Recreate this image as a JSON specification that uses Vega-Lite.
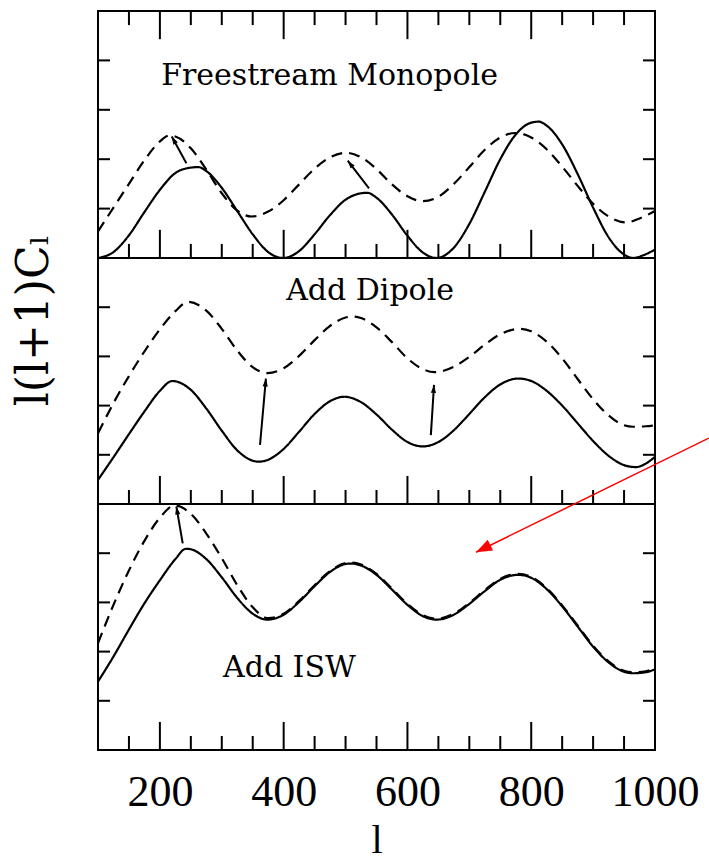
{
  "$schema": "https://vega.github.io/schema/vega-lite/v6.json",
  "background": "white",
  "padding": {"left": 11, "top": 9, "right": 0, "bottom": 0},
  "bounds": "flush",
  "spacing": 0,
  "config": {"view": {"stroke": "black", "strokeWidth": 2}},
  "datasets": {
    "curves": [
      {"p":1,"s":"solid","l":100,"v":0},{"p":1,"s":"solid","l":125,"v":0.12},{"p":1,"s":"solid","l":150,"v":0.46},{"p":1,"s":"solid","l":175,"v":0.93},{"p":1,"s":"solid","l":200,"v":1.38},{"p":1,"s":"solid","l":225,"v":1.72},{"p":1,"s":"solid","l":250,"v":1.83},{"p":1,"s":"solid","l":262,"v":1.84},{"p":1,"s":"solid","l":275,"v":1.76},{"p":1,"s":"solid","l":300,"v":1.42},{"p":1,"s":"solid","l":325,"v":0.95},{"p":1,"s":"solid","l":350,"v":0.48},{"p":1,"s":"solid","l":375,"v":0.12},{"p":1,"s":"solid","l":399,"v":0},{"p":1,"s":"solid","l":425,"v":0.14},{"p":1,"s":"solid","l":450,"v":0.48},{"p":1,"s":"solid","l":475,"v":0.87},{"p":1,"s":"solid","l":500,"v":1.18},{"p":1,"s":"solid","l":525,"v":1.31},{"p":1,"s":"solid","l":535,"v":1.32},{"p":1,"s":"solid","l":550,"v":1.22},{"p":1,"s":"solid","l":575,"v":0.88},{"p":1,"s":"solid","l":600,"v":0.45},{"p":1,"s":"solid","l":625,"v":0.11},{"p":1,"s":"solid","l":647,"v":0},{"p":1,"s":"solid","l":675,"v":0.21},{"p":1,"s":"solid","l":700,"v":0.69},{"p":1,"s":"solid","l":725,"v":1.34},{"p":1,"s":"solid","l":750,"v":2.0},{"p":1,"s":"solid","l":775,"v":2.5},{"p":1,"s":"solid","l":800,"v":2.74},{"p":1,"s":"solid","l":812,"v":2.76},{"p":1,"s":"solid","l":825,"v":2.68},{"p":1,"s":"solid","l":850,"v":2.3},{"p":1,"s":"solid","l":875,"v":1.7},{"p":1,"s":"solid","l":900,"v":1.02},{"p":1,"s":"solid","l":925,"v":0.42},{"p":1,"s":"solid","l":950,"v":0.07},{"p":1,"s":"solid","l":965,"v":0},{"p":1,"s":"solid","l":980,"v":0.05},{"p":1,"s":"solid","l":1000,"v":0.17},
      {"p":1,"s":"dashed","l":100,"v":0.54},{"p":1,"s":"dashed","l":125,"v":1.02},{"p":1,"s":"dashed","l":150,"v":1.5},{"p":1,"s":"dashed","l":175,"v":1.98},{"p":1,"s":"dashed","l":200,"v":2.36},{"p":1,"s":"dashed","l":215,"v":2.48},{"p":1,"s":"dashed","l":225,"v":2.46},{"p":1,"s":"dashed","l":250,"v":2.22},{"p":1,"s":"dashed","l":275,"v":1.79},{"p":1,"s":"dashed","l":300,"v":1.31},{"p":1,"s":"dashed","l":325,"v":0.96},{"p":1,"s":"dashed","l":348,"v":0.84},{"p":1,"s":"dashed","l":375,"v":0.94},{"p":1,"s":"dashed","l":400,"v":1.17},{"p":1,"s":"dashed","l":425,"v":1.49},{"p":1,"s":"dashed","l":450,"v":1.81},{"p":1,"s":"dashed","l":475,"v":2.04},{"p":1,"s":"dashed","l":501,"v":2.13},{"p":1,"s":"dashed","l":525,"v":2.04},{"p":1,"s":"dashed","l":550,"v":1.8},{"p":1,"s":"dashed","l":575,"v":1.49},{"p":1,"s":"dashed","l":600,"v":1.25},{"p":1,"s":"dashed","l":625,"v":1.15},{"p":1,"s":"dashed","l":650,"v":1.24},{"p":1,"s":"dashed","l":675,"v":1.5},{"p":1,"s":"dashed","l":700,"v":1.84},{"p":1,"s":"dashed","l":725,"v":2.19},{"p":1,"s":"dashed","l":750,"v":2.44},{"p":1,"s":"dashed","l":775,"v":2.53},{"p":1,"s":"dashed","l":800,"v":2.44},{"p":1,"s":"dashed","l":825,"v":2.2},{"p":1,"s":"dashed","l":850,"v":1.85},{"p":1,"s":"dashed","l":875,"v":1.46},{"p":1,"s":"dashed","l":900,"v":1.1},{"p":1,"s":"dashed","l":925,"v":0.84},{"p":1,"s":"dashed","l":954,"v":0.72},{"p":1,"s":"dashed","l":975,"v":0.8},{"p":1,"s":"dashed","l":1000,"v":0.95},
      {"p":2,"s":"solid","l":100,"v":0.49},{"p":2,"s":"solid","l":125,"v":0.95},{"p":2,"s":"solid","l":150,"v":1.42},{"p":2,"s":"solid","l":175,"v":1.88},{"p":2,"s":"solid","l":200,"v":2.3},{"p":2,"s":"solid","l":220,"v":2.5},{"p":2,"s":"solid","l":250,"v":2.32},{"p":2,"s":"solid","l":275,"v":1.94},{"p":2,"s":"solid","l":300,"v":1.49},{"p":2,"s":"solid","l":325,"v":1.09},{"p":2,"s":"solid","l":350,"v":0.88},{"p":2,"s":"solid","l":359,"v":0.86},{"p":2,"s":"solid","l":375,"v":0.9},{"p":2,"s":"solid","l":400,"v":1.12},{"p":2,"s":"solid","l":425,"v":1.47},{"p":2,"s":"solid","l":450,"v":1.83},{"p":2,"s":"solid","l":475,"v":2.09},{"p":2,"s":"solid","l":498,"v":2.18},{"p":2,"s":"solid","l":525,"v":2.07},{"p":2,"s":"solid","l":550,"v":1.82},{"p":2,"s":"solid","l":575,"v":1.51},{"p":2,"s":"solid","l":600,"v":1.26},{"p":2,"s":"solid","l":625,"v":1.17},{"p":2,"s":"solid","l":650,"v":1.26},{"p":2,"s":"solid","l":675,"v":1.5},{"p":2,"s":"solid","l":700,"v":1.83},{"p":2,"s":"solid","l":725,"v":2.17},{"p":2,"s":"solid","l":750,"v":2.43},{"p":2,"s":"solid","l":779,"v":2.55},{"p":2,"s":"solid","l":800,"v":2.5},{"p":2,"s":"solid","l":825,"v":2.3},{"p":2,"s":"solid","l":850,"v":2.0},{"p":2,"s":"solid","l":875,"v":1.64},{"p":2,"s":"solid","l":900,"v":1.28},{"p":2,"s":"solid","l":925,"v":0.98},{"p":2,"s":"solid","l":950,"v":0.79},{"p":2,"s":"solid","l":969,"v":0.75},{"p":2,"s":"solid","l":985,"v":0.82},{"p":2,"s":"solid","l":1000,"v":0.96},
      {"p":2,"s":"dashed","l":100,"v":1.44},{"p":2,"s":"dashed","l":125,"v":2.05},{"p":2,"s":"dashed","l":150,"v":2.6},{"p":2,"s":"dashed","l":175,"v":3.1},{"p":2,"s":"dashed","l":200,"v":3.55},{"p":2,"s":"dashed","l":225,"v":3.92},{"p":2,"s":"dashed","l":246,"v":4.11},{"p":2,"s":"dashed","l":275,"v":3.93},{"p":2,"s":"dashed","l":300,"v":3.56},{"p":2,"s":"dashed","l":325,"v":3.12},{"p":2,"s":"dashed","l":350,"v":2.78},{"p":2,"s":"dashed","l":374,"v":2.66},{"p":2,"s":"dashed","l":400,"v":2.76},{"p":2,"s":"dashed","l":425,"v":3.01},{"p":2,"s":"dashed","l":450,"v":3.33},{"p":2,"s":"dashed","l":475,"v":3.62},{"p":2,"s":"dashed","l":500,"v":3.79},{"p":2,"s":"dashed","l":512,"v":3.81},{"p":2,"s":"dashed","l":525,"v":3.78},{"p":2,"s":"dashed","l":550,"v":3.59},{"p":2,"s":"dashed","l":575,"v":3.29},{"p":2,"s":"dashed","l":600,"v":2.96},{"p":2,"s":"dashed","l":625,"v":2.74},{"p":2,"s":"dashed","l":644,"v":2.68},{"p":2,"s":"dashed","l":675,"v":2.79},{"p":2,"s":"dashed","l":700,"v":2.99},{"p":2,"s":"dashed","l":725,"v":3.24},{"p":2,"s":"dashed","l":750,"v":3.45},{"p":2,"s":"dashed","l":782,"v":3.56},{"p":2,"s":"dashed","l":800,"v":3.51},{"p":2,"s":"dashed","l":825,"v":3.3},{"p":2,"s":"dashed","l":850,"v":2.96},{"p":2,"s":"dashed","l":875,"v":2.54},{"p":2,"s":"dashed","l":900,"v":2.13},{"p":2,"s":"dashed","l":925,"v":1.8},{"p":2,"s":"dashed","l":950,"v":1.6},{"p":2,"s":"dashed","l":965,"v":1.57},{"p":2,"s":"dashed","l":985,"v":1.58},{"p":2,"s":"dashed","l":1000,"v":1.6},
      {"p":3,"s":"solid","l":100,"v":1.39},{"p":3,"s":"solid","l":125,"v":1.9},{"p":3,"s":"solid","l":150,"v":2.45},{"p":3,"s":"solid","l":175,"v":2.98},{"p":3,"s":"solid","l":200,"v":3.45},{"p":3,"s":"solid","l":225,"v":3.88},{"p":3,"s":"solid","l":242,"v":4.09},{"p":3,"s":"solid","l":250,"v":4.08},{"p":3,"s":"solid","l":275,"v":3.88},{"p":3,"s":"solid","l":300,"v":3.51},{"p":3,"s":"solid","l":325,"v":3.09},{"p":3,"s":"solid","l":350,"v":2.77},{"p":3,"s":"solid","l":374,"v":2.65},{"p":3,"s":"solid","l":400,"v":2.75},{"p":3,"s":"solid","l":425,"v":3.01},{"p":3,"s":"solid","l":450,"v":3.33},{"p":3,"s":"solid","l":475,"v":3.62},{"p":3,"s":"solid","l":500,"v":3.78},{"p":3,"s":"solid","l":509,"v":3.79},{"p":3,"s":"solid","l":525,"v":3.75},{"p":3,"s":"solid","l":550,"v":3.56},{"p":3,"s":"solid","l":575,"v":3.26},{"p":3,"s":"solid","l":600,"v":2.95},{"p":3,"s":"solid","l":625,"v":2.72},{"p":3,"s":"solid","l":647,"v":2.65},{"p":3,"s":"solid","l":675,"v":2.75},{"p":3,"s":"solid","l":700,"v":2.97},{"p":3,"s":"solid","l":725,"v":3.23},{"p":3,"s":"solid","l":750,"v":3.46},{"p":3,"s":"solid","l":779,"v":3.56},{"p":3,"s":"solid","l":800,"v":3.5},{"p":3,"s":"solid","l":825,"v":3.27},{"p":3,"s":"solid","l":850,"v":2.92},{"p":3,"s":"solid","l":875,"v":2.51},{"p":3,"s":"solid","l":900,"v":2.1},{"p":3,"s":"solid","l":925,"v":1.78},{"p":3,"s":"solid","l":950,"v":1.59},{"p":3,"s":"solid","l":965,"v":1.56},{"p":3,"s":"solid","l":985,"v":1.58},{"p":3,"s":"solid","l":1000,"v":1.64},
      {"p":3,"s":"dashed","l":100,"v":2.17},{"p":3,"s":"dashed","l":125,"v":2.95},{"p":3,"s":"dashed","l":150,"v":3.65},{"p":3,"s":"dashed","l":175,"v":4.25},{"p":3,"s":"dashed","l":200,"v":4.72},{"p":3,"s":"dashed","l":224,"v":4.97},{"p":3,"s":"dashed","l":250,"v":4.8},{"p":3,"s":"dashed","l":275,"v":4.4},{"p":3,"s":"dashed","l":300,"v":3.9},{"p":3,"s":"dashed","l":325,"v":3.35},{"p":3,"s":"dashed","l":350,"v":2.9},{"p":3,"s":"dashed","l":375,"v":2.68},{"p":3,"s":"dashed","l":400,"v":2.77},{"p":3,"s":"dashed","l":425,"v":3.03},{"p":3,"s":"dashed","l":450,"v":3.35},{"p":3,"s":"dashed","l":475,"v":3.64},{"p":3,"s":"dashed","l":500,"v":3.8},{"p":3,"s":"dashed","l":509,"v":3.81},{"p":3,"s":"dashed","l":525,"v":3.77},{"p":3,"s":"dashed","l":550,"v":3.58},{"p":3,"s":"dashed","l":575,"v":3.28},{"p":3,"s":"dashed","l":600,"v":2.97},{"p":3,"s":"dashed","l":625,"v":2.74},{"p":3,"s":"dashed","l":647,"v":2.67},{"p":3,"s":"dashed","l":675,"v":2.77},{"p":3,"s":"dashed","l":700,"v":2.99},{"p":3,"s":"dashed","l":725,"v":3.25},{"p":3,"s":"dashed","l":750,"v":3.48},{"p":3,"s":"dashed","l":779,"v":3.58},{"p":3,"s":"dashed","l":800,"v":3.52},{"p":3,"s":"dashed","l":825,"v":3.29},{"p":3,"s":"dashed","l":850,"v":2.94},{"p":3,"s":"dashed","l":875,"v":2.53},{"p":3,"s":"dashed","l":900,"v":2.12},{"p":3,"s":"dashed","l":925,"v":1.8},{"p":3,"s":"dashed","l":950,"v":1.61},{"p":3,"s":"dashed","l":965,"v":1.58},{"p":3,"s":"dashed","l":985,"v":1.6},{"p":3,"s":"dashed","l":1000,"v":1.66}
    ],
    "arrows": [
      {"p":1,"id":"a1","l1":242.8,"v1":1.92,"l2":219.2,"v2":2.46},
      {"p":1,"id":"a2","l1":537.9,"v1":1.41,"l2":503.5,"v2":1.97},
      {"p":2,"id":"a3","l1":361.8,"v1":1.2,"l2":371.3,"v2":2.55},
      {"p":2,"id":"a4","l1":637.8,"v1":1.4,"l2":642.9,"v2":2.42},
      {"p":3,"id":"a5","l1":236.9,"v1":4.2,"l2":226.6,"v2":4.95}
    ],
    "redarrow": [
      {"id":"red","l1":1087,"v1":6.34,"l2":710.8,"v2":4.02}
    ],
    "labels": [
      {"p":1,"t":"Freestream Monopole","l":202,"v":3.5},
      {"p":2,"t":"Add Dipole","l":404,"v":4.15},
      {"p":3,"t":"Add ISW","l":302,"v":1.48}
    ],
    "xmajor": [{"l":200},{"l":400},{"l":600},{"l":800}],
    "xminor": [{"l":150},{"l":250},{"l":300},{"l":350},{"l":450},{"l":500},{"l":550},{"l":650},{"l":700},{"l":750},{"l":850},{"l":900},{"l":950}],
    "yticks": [{"v":1},{"v":2},{"v":3},{"v":4}]
  },
  "vconcat": [
    {
      "width": 557, "height": 247,
      "resolve": {"axis": {"x": "independent", "y": "independent"}},
      "layer": [
        {"data":{"name":"curves"},"transform":[{"filter":{"field":"p","equal":1}}],
         "mark":{"type":"line","color":"black","strokeWidth":2.2,"interpolate":"monotone"},
         "encoding":{"x":{"field":"l","type":"quantitative","scale":{"domain":[100,1000],"nice":false,"zero":false},"axis":null},
                     "y":{"field":"v","type":"quantitative","scale":{"domain":[0,5],"nice":false,"zero":false},"axis":null},
                     "strokeDash":{"field":"s","type":"nominal","scale":{"domain":["solid","dashed"],"range":[[1,0],[11,7]]},"legend":null}}},
        {"data":{"name":"xmajor"},"mark":{"type":"rule","color":"black","strokeWidth":2},
         "encoding":{"x":{"field":"l","type":"quantitative","axis":null},"y":{"datum":0,"axis":null},"y2":{"datum":0.57}}},
        {"data":{"name":"xminor"},"mark":{"type":"rule","color":"black","strokeWidth":2},
         "encoding":{"x":{"field":"l","type":"quantitative","axis":null},"y":{"datum":0,"axis":null},"y2":{"datum":0.285}}},
        {"data":{"name":"xmajor"},"mark":{"type":"rule","color":"black","strokeWidth":2},
         "encoding":{"x":{"field":"l","type":"quantitative","axis":null},"y":{"datum":5,"axis":null},"y2":{"datum":4.43}}},
        {"data":{"name":"xminor"},"mark":{"type":"rule","color":"black","strokeWidth":2},
         "encoding":{"x":{"field":"l","type":"quantitative","axis":null},"y":{"datum":5,"axis":null},"y2":{"datum":4.715}}},
        {"data":{"name":"yticks"},"mark":{"type":"rule","color":"black","strokeWidth":2},
         "encoding":{"y":{"field":"v","type":"quantitative","axis":null},"x":{"datum":100,"axis":null},"x2":{"datum":119.4}}},
        {"data":{"name":"yticks"},"mark":{"type":"rule","color":"black","strokeWidth":2},
         "encoding":{"y":{"field":"v","type":"quantitative","axis":null},"x":{"datum":1000,"axis":null},"x2":{"datum":980.6}}},
        {"data":{"name":"arrows"},"transform":[{"filter":{"field":"p","equal":1}}],"mark":{"type":"rule","color":"black","strokeWidth":2},
         "encoding":{"x":{"field":"l1","type":"quantitative","axis":null},"y":{"field":"v1","type":"quantitative","axis":null},"x2":{"field":"l2"},"y2":{"field":"v2"}}},
        {"data":{"name":"arrows"},"transform":[{"filter":{"field":"id","equal":"a1"}}],
         "mark":{"type":"point","shape":"M0,0L0.65,2L-0.65,2Z","filled":true,"color":"black","opacity":1,"size":64,"strokeWidth":0,"angle":331},
         "encoding":{"x":{"field":"l2","type":"quantitative","axis":null},"y":{"field":"v2","type":"quantitative","axis":null}}},
        {"data":{"name":"arrows"},"transform":[{"filter":{"field":"id","equal":"a2"}}],
         "mark":{"type":"point","shape":"M0,0L0.65,2L-0.65,2Z","filled":true,"color":"black","opacity":1,"size":64,"strokeWidth":0,"angle":322},
         "encoding":{"x":{"field":"l2","type":"quantitative","axis":null},"y":{"field":"v2","type":"quantitative","axis":null}}},
        {"data":{"name":"labels"},"transform":[{"filter":{"field":"p","equal":1}}],
         "mark":{"type":"text","font":"DejaVu Serif","fontSize":30,"align":"left","baseline":"alphabetic","color":"black"},
         "encoding":{"x":{"field":"l","type":"quantitative","axis":null},"y":{"field":"v","type":"quantitative","axis":null},"text":{"field":"t"}}}
      ]
    },
    {
      "width": 557, "height": 246,
      "resolve": {"axis": {"x": "independent", "y": "independent"}},
      "layer": [
        {"data":{"name":"curves"},"transform":[{"filter":{"field":"p","equal":2}}],
         "mark":{"type":"line","color":"black","strokeWidth":2.2,"interpolate":"monotone"},
         "encoding":{"x":{"field":"l","type":"quantitative","scale":{"domain":[100,1000],"nice":false,"zero":false},"axis":null},
                     "y":{"field":"v","type":"quantitative","scale":{"domain":[0,5],"nice":false,"zero":false},
                          "axis":{"orient":"left","ticks":false,"labels":false,"domain":false,"grid":false,"title":"l(l+1)Cₗ","titleFont":"DejaVu Serif","titleFontSize":44,"titleFontWeight":"normal","titleColor":"black","titlePadding":42,"titleY":62}},
                     "strokeDash":{"field":"s","type":"nominal","scale":{"domain":["solid","dashed"],"range":[[1,0],[11,7]]},"legend":null}}},
        {"data":{"name":"xmajor"},"mark":{"type":"rule","color":"black","strokeWidth":2},
         "encoding":{"x":{"field":"l","type":"quantitative","axis":null},"y":{"datum":0,"axis":null},"y2":{"datum":0.57}}},
        {"data":{"name":"xminor"},"mark":{"type":"rule","color":"black","strokeWidth":2},
         "encoding":{"x":{"field":"l","type":"quantitative","axis":null},"y":{"datum":0,"axis":null},"y2":{"datum":0.285}}},
        {"data":{"name":"yticks"},"mark":{"type":"rule","color":"black","strokeWidth":2},
         "encoding":{"y":{"field":"v","type":"quantitative","axis":null},"x":{"datum":100,"axis":null},"x2":{"datum":119.4}}},
        {"data":{"name":"yticks"},"mark":{"type":"rule","color":"black","strokeWidth":2},
         "encoding":{"y":{"field":"v","type":"quantitative","axis":null},"x":{"datum":1000,"axis":null},"x2":{"datum":980.6}}},
        {"data":{"name":"arrows"},"transform":[{"filter":{"field":"p","equal":2}}],"mark":{"type":"rule","color":"black","strokeWidth":2},
         "encoding":{"x":{"field":"l1","type":"quantitative","axis":null},"y":{"field":"v1","type":"quantitative","axis":null},"x2":{"field":"l2"},"y2":{"field":"v2"}}},
        {"data":{"name":"arrows"},"transform":[{"filter":{"field":"id","equal":"a3"}}],
         "mark":{"type":"point","shape":"M0,0L0.65,2L-0.65,2Z","filled":true,"color":"black","opacity":1,"size":64,"strokeWidth":0,"angle":5},
         "encoding":{"x":{"field":"l2","type":"quantitative","axis":null},"y":{"field":"v2","type":"quantitative","axis":null}}},
        {"data":{"name":"arrows"},"transform":[{"filter":{"field":"id","equal":"a4"}}],
         "mark":{"type":"point","shape":"M0,0L0.65,2L-0.65,2Z","filled":true,"color":"black","opacity":1,"size":64,"strokeWidth":0,"angle":4},
         "encoding":{"x":{"field":"l2","type":"quantitative","axis":null},"y":{"field":"v2","type":"quantitative","axis":null}}},
        {"data":{"name":"labels"},"transform":[{"filter":{"field":"p","equal":2}}],
         "mark":{"type":"text","font":"DejaVu Serif","fontSize":30,"align":"left","baseline":"alphabetic","color":"black"},
         "encoding":{"x":{"field":"l","type":"quantitative","axis":null},"y":{"field":"v","type":"quantitative","axis":null},"text":{"field":"t"}}}
      ]
    },
    {
      "width": 557, "height": 246,
      "resolve": {"axis": {"x": "independent", "y": "independent"}},
      "layer": [
        {"data":{"name":"curves"},"transform":[{"filter":{"field":"p","equal":3}}],
         "mark":{"type":"line","color":"black","strokeWidth":2.2,"interpolate":"monotone"},
         "encoding":{"x":{"field":"l","type":"quantitative","scale":{"domain":[100,1000],"nice":false,"zero":false},
                          "axis":{"orient":"bottom","values":[200,400,600,800,1000],"format":"d","ticks":false,"domain":false,"grid":false,"labelFont":"Liberation Serif","labelFontSize":44,"labelColor":"black","labelPadding":20,"labelFlush":false,"labelOverlap":false,"title":"l","titleFont":"Liberation Serif","titleFontSize":40,"titleFontWeight":"normal","titleColor":"black","titlePadding":6}},
                     "y":{"field":"v","type":"quantitative","scale":{"domain":[0,5],"nice":false,"zero":false},"axis":null},
                     "strokeDash":{"field":"s","type":"nominal","scale":{"domain":["solid","dashed"],"range":[[1,0],[11,7]]},"legend":null}}},
        {"data":{"name":"xmajor"},"mark":{"type":"rule","color":"black","strokeWidth":2},
         "encoding":{"x":{"field":"l","type":"quantitative","axis":null},"y":{"datum":0,"axis":null},"y2":{"datum":0.57}}},
        {"data":{"name":"xminor"},"mark":{"type":"rule","color":"black","strokeWidth":2},
         "encoding":{"x":{"field":"l","type":"quantitative","axis":null},"y":{"datum":0,"axis":null},"y2":{"datum":0.285}}},
        {"data":{"name":"yticks"},"mark":{"type":"rule","color":"black","strokeWidth":2},
         "encoding":{"y":{"field":"v","type":"quantitative","axis":null},"x":{"datum":100,"axis":null},"x2":{"datum":119.4}}},
        {"data":{"name":"yticks"},"mark":{"type":"rule","color":"black","strokeWidth":2},
         "encoding":{"y":{"field":"v","type":"quantitative","axis":null},"x":{"datum":1000,"axis":null},"x2":{"datum":980.6}}},
        {"data":{"name":"arrows"},"transform":[{"filter":{"field":"p","equal":3}}],"mark":{"type":"rule","color":"black","strokeWidth":2},
         "encoding":{"x":{"field":"l1","type":"quantitative","axis":null},"y":{"field":"v1","type":"quantitative","axis":null},"x2":{"field":"l2"},"y2":{"field":"v2"}}},
        {"data":{"name":"arrows"},"transform":[{"filter":{"field":"id","equal":"a5"}}],
         "mark":{"type":"point","shape":"M0,0L0.65,2L-0.65,2Z","filled":true,"color":"black","opacity":1,"size":64,"strokeWidth":0,"angle":350},
         "encoding":{"x":{"field":"l2","type":"quantitative","axis":null},"y":{"field":"v2","type":"quantitative","axis":null}}},
        {"data":{"name":"labels"},"transform":[{"filter":{"field":"p","equal":3}}],
         "mark":{"type":"text","font":"DejaVu Serif","fontSize":30,"align":"left","baseline":"alphabetic","color":"black"},
         "encoding":{"x":{"field":"l","type":"quantitative","axis":null},"y":{"field":"v","type":"quantitative","axis":null},"text":{"field":"t"}}},
        {"data":{"name":"redarrow"},"mark":{"type":"rule","color":"#ff0000","strokeWidth":1.5},
         "encoding":{"x":{"field":"l1","type":"quantitative","axis":null},"y":{"field":"v1","type":"quantitative","axis":null},"x2":{"field":"l2"},"y2":{"field":"v2"}}},
        {"data":{"name":"redarrow"},
         "mark":{"type":"point","shape":"M0,0L0.75,2L-0.75,2Z","filled":true,"color":"#ff0000","opacity":1,"size":256,"strokeWidth":0,"angle":244},
         "encoding":{"x":{"field":"l2","type":"quantitative","axis":null},"y":{"field":"v2","type":"quantitative","axis":null}}}
      ]
    }
  ]
}
